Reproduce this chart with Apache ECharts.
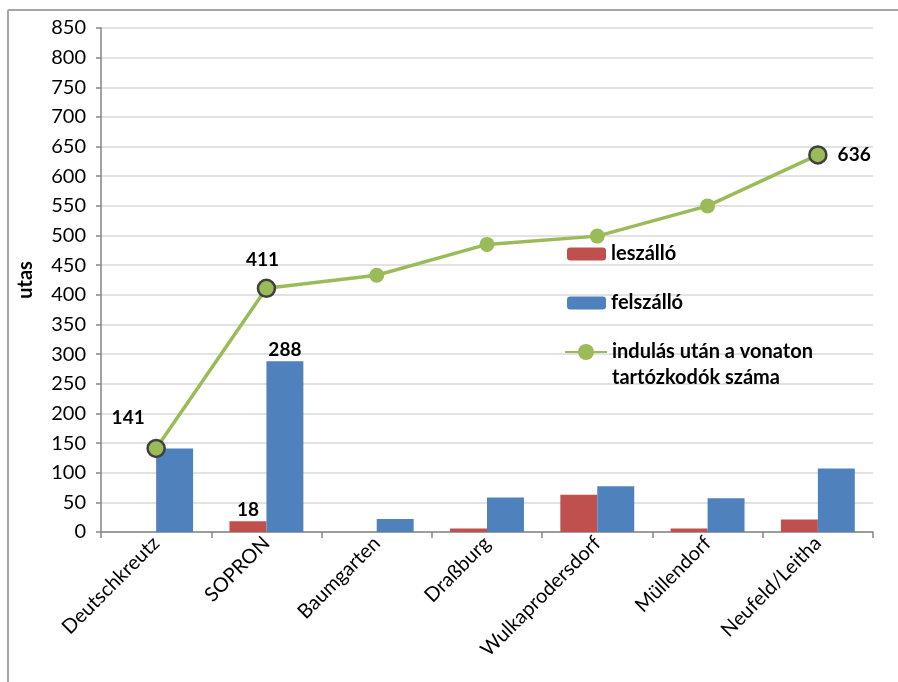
<!DOCTYPE html>
<html>
<head>
<meta charset="utf-8">
<style>
  html, body { margin: 0; padding: 0; background: #ffffff; }
  #chart { width: 898px; height: 682px; }
</style>
<script src="https://cdn.jsdelivr.net/npm/echarts@6/dist/echarts.min.js"></script>
</head>
<body>
<div id="chart"></div>
<script>
// Stations along the line, in order of travel
const stations = ['Deutschkreutz', 'SOPRON', 'Baumgarten', 'Draßburg', 'Wulkaprodersdorf', 'Müllendorf', 'Neufeld/Leitha'];
// Passengers getting off at each station
const leszallo = [0, 18, 0, 6, 63, 6, 21];
// Passengers getting on at each station
const felszallo = [141, 288, 22, 58, 77, 57, 107];
// Passengers on board after departure
const onboard = [141, 411, 433, 485, 499, 550, 636];

// Value axis range
const yMin = 0, yMax = 850, yStep = 50;

const FONT = 'Lato';
const RED = '#c0504d', BLUE = '#4f81bd', GREEN = '#9bbb59';

const labelBase = { show: true, color: '#000', fontFamily: FONT, fontWeight: 'bold', fontSize: 19 };

// Which points carry a value label, and where it sits
const lineLabelPlace = {
  0: { position: 'top', offset: [-28, -6] },
  1: { position: 'top', offset: [-4, -4] },
  6: { position: 'right', distance: 10 }
};

const lineData = onboard.map((v, i) => {
  const place = lineLabelPlace[i];
  if (!place) return { value: v };
  return {
    value: v,
    symbolSize: 17,
    itemStyle: { borderColor: '#3f3f3f', borderWidth: 2.5 },
    label: Object.assign({}, labelBase, place)
  };
});

const redData = leszallo.map((v, i) => i === 1
  ? { value: v, label: Object.assign({}, labelBase, { position: 'top', distance: 2 }) }
  : v);
const blueData = felszallo.map((v, i) => i === 1
  ? { value: v, label: Object.assign({}, labelBase, { position: 'top', distance: 2 }) }
  : v);

const LINE_NAME = 'indulás után a vonaton\ntartózkodók száma';
const legendText = { color: '#000', fontFamily: FONT, fontWeight: 'bold', fontSize: 20 };

const chart = echarts.init(document.getElementById('chart'), null, { renderer: 'canvas' });
chart.setOption({
  animation: false,
  backgroundColor: '#ffffff',
  grid: { left: 101, right: 25, top: 28, bottom: 150, containLabel: false },
  legend: [
    {
      data: ['leszálló'], orient: 'vertical', left: 567, top: 244, padding: 0,
      itemWidth: 39, itemHeight: 13, textStyle: legendText
    },
    {
      data: ['felszálló'], orient: 'vertical', left: 567, top: 293, padding: 0,
      itemWidth: 39, itemHeight: 13, textStyle: legendText
    },
    {
      // leading blank line keeps the marker level with the first text line
      data: [LINE_NAME], orient: 'vertical', left: 564, top: 313, padding: 0,
      itemWidth: 42, itemHeight: 20, itemGap: 6,
      formatter: (name) => ' \n' + name,
      textStyle: Object.assign({}, legendText, { lineHeight: 26 })
    }
  ],
  xAxis: {
    type: 'category',
    data: stations,
    boundaryGap: true,
    axisLine: { lineStyle: { color: '#868686', width: 1.5 } },
    axisTick: { show: true, length: 6, lineStyle: { color: '#868686', width: 1.5 } },
    axisLabel: { rotate: 45, margin: 8, color: '#000', fontFamily: FONT, fontSize: 20 },
    splitLine: { show: false }
  },
  yAxis: {
    type: 'value',
    min: yMin, max: yMax, interval: yStep,
    name: 'utas',
    nameLocation: 'middle',
    nameGap: 65,
    nameRotate: 90,
    nameTextStyle: { color: '#000', fontFamily: FONT, fontWeight: 'bold', fontSize: 20 },
    axisLine: { show: true, lineStyle: { color: '#868686', width: 1.5 } },
    axisTick: { show: true, length: 5, lineStyle: { color: '#868686', width: 1.5 } },
    axisLabel: { margin: 15, color: '#000', fontFamily: FONT, fontSize: 20 },
    splitLine: { show: true, lineStyle: { color: '#d9d9d9', width: 1.5 } }
  },
  series: [
    {
      name: 'leszálló', type: 'bar', data: redData,
      barGap: '0%', barCategoryGap: '33%',
      itemStyle: { color: RED }
    },
    {
      name: 'felszálló', type: 'bar', data: blueData,
      barGap: '0%', barCategoryGap: '33%',
      itemStyle: { color: BLUE }
    },
    {
      name: LINE_NAME, type: 'line', data: lineData,
      symbol: 'circle', symbolSize: 15,
      lineStyle: { color: GREEN, width: 3.5 },
      itemStyle: { color: GREEN },
      z: 5
    }
  ],
  graphic: [
    // chart frame: left and top edges
    { type: 'line', shape: { x1: 8, y1: 10, x2: 8, y2: 682 }, style: { stroke: '#a6a6a6', lineWidth: 2 }, silent: true },
    { type: 'line', shape: { x1: 8, y1: 10, x2: 898, y2: 10 }, style: { stroke: '#a6a6a6', lineWidth: 2 }, silent: true }
  ]
});
</script>
</body>
</html>
